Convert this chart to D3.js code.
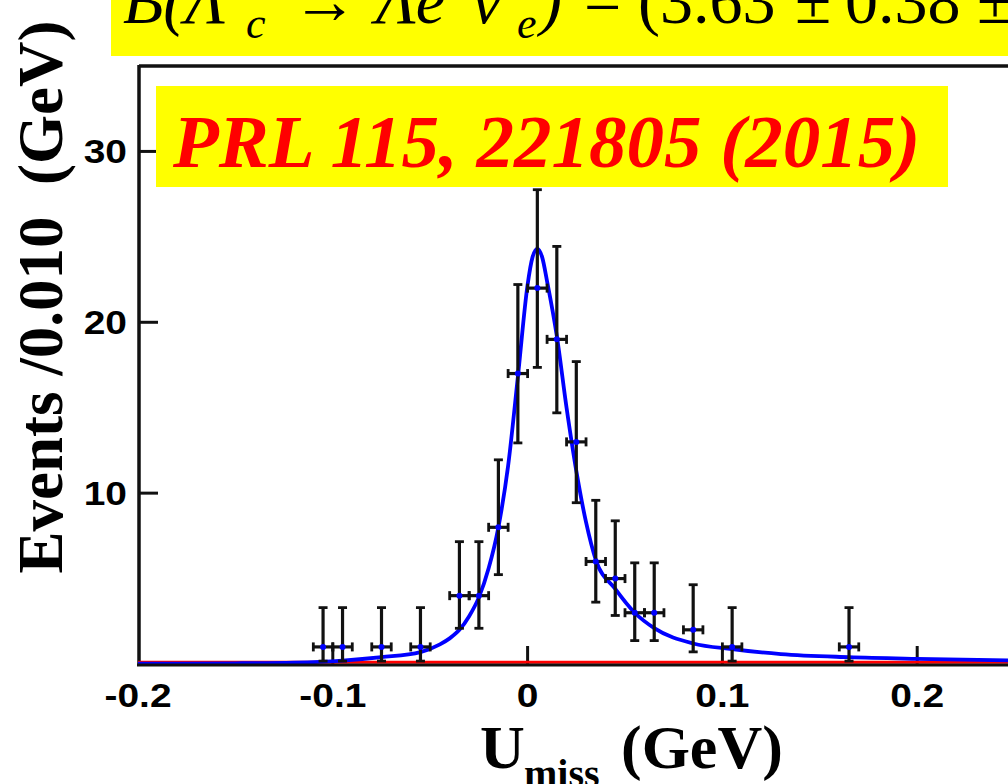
<!DOCTYPE html>
<html>
<head>
<meta charset="utf-8">
<script src="https://cdn.jsdelivr.net/npm/d3@7"></script>
<style>
  body { margin: 0; background: #ffffff; }
  svg { display: block; }
</style>
</head>
<body>
<div id="mychart"></div>
<script>
// bin centres (GeV) and event counts per 0.010 GeV
var binCenters = [-0.105, -0.095, -0.075, -0.055, -0.035, -0.025, -0.015, -0.005,
                  0.005, 0.015, 0.025, 0.035, 0.045, 0.055, 0.065, 0.085, 0.105, 0.165];
var counts = [1, 1, 1, 1, 4, 4, 8, 17, 22, 19, 13, 6, 5, 3, 3, 2, 1, 1];
// asymmetric (Poisson) error bars
var errDown = [0.83, 0.83, 0.83, 0.83, 1.91, 1.91, 2.77, 4.06, 4.64, 4.30, 3.56, 2.38, 2.16, 1.63, 1.63, 1.29, 0.83, 0.83];
var errUp   = [2.30, 2.30, 2.30, 2.30, 3.16, 3.16, 3.95, 5.21, 5.76, 5.44, 4.70, 3.58, 3.38, 2.92, 2.92, 2.64, 2.30, 2.30];
var binHalfWidth = 0.005;

// fitted total curve (blue), read point by point
var fitX = [-0.2, -0.15, -0.12, -0.095, -0.075, -0.055, -0.045, -0.04, -0.035, -0.03, -0.025, -0.02, -0.015, -0.01, -0.005,
            0, 0.0025, 0.005, 0.0075, 0.01, 0.015, 0.02, 0.025, 0.03, 0.035, 0.045, 0.055, 0.065, 0.085, 0.105, 0.13, 0.165, 0.2, 0.25, 0.3];
var fitY = [0.02, 0.04, 0.08, 0.2, 0.4, 0.7, 1.15, 1.5, 2.0, 2.8, 3.9, 5.6, 8.0, 11.6, 16.8,
            22.2, 23.8, 24.3, 23.8, 22.4, 19.2, 15.0, 11.3, 8.3, 6.1, 4.4, 3.0, 2.1, 1.2, 0.87, 0.58, 0.4, 0.3, 0.2, 0.15];

// background (red), flat at zero
var bkgX = [-0.2, 0.3];
var bkgY = [0.1, 0.1];

var xTicks = [-0.2, -0.1, 0, 0.1, 0.2];
var xTickLabels = ["-0.2", "-0.1", "0", "0.1", "0.2"];
var yTicks = [10, 20, 30];

var width = 1008,
    height = 784;

var svg = d3.select("#mychart")
  .append("svg")
    .attr("width", width)
    .attr("height", height);

svg.append("rect")
  .attr("width", width)
  .attr("height", height)
  .attr("fill", "#ffffff");

// scales: frame runs -0.2..0.3 GeV, 0..35 events
var x = d3.scaleLinear().domain([-0.2, 0.3]).range([138, 1112]);
var y = d3.scaleLinear().domain([0, 35]).range([664, 66]);

// top banner (cut at the top of the picture, as in the slide)
svg.append("rect")
  .attr("x", 111).attr("y", 0)
  .attr("width", 897).attr("height", 56)
  .attr("fill", "#ffff00");

var banner = svg.append("text")
  .attr("y", 23)
  .style("font-family", "'Liberation Serif', 'Times New Roman', serif")
  .style("font-size", "66px")
  .attr("fill", "#000");

var bannerParts = [
  { t: "B(\u039B", x: 123, italic: true },
  { t: "c", x: 246, italic: true, sub: true },
  { t: "\u2192", x: 292 },
  { t: "\u039Be", x: 376, italic: true },
  { t: "\u03BD", x: 472, italic: true },
  { t: "e", x: 517, italic: true, sub: true },
  { t: ")", x: 540, italic: true },
  { t: "=", x: 584 },
  { t: "(3.63", x: 638 },
  { t: "\u00B1", x: 795 },
  { t: "0.38", x: 845 },
  { t: "\u00B1", x: 977 },
  { t: "0.20)%", x: 1030 }
];

banner.selectAll("tspan")
  .data(bannerParts)
  .enter()
  .append("tspan")
    .attr("x", function (d) { return d.x; })
    .attr("y", function (d) { return d.sub ? 38 : 23; })
    .style("font-style", function (d) { return d.italic ? "italic" : "normal"; })
    .style("font-size", function (d) { return d.sub ? "44px" : "66px"; })
    .text(function (d) { return d.t; });

// frame lines
svg.append("line")
  .attr("x1", 139).attr("x2", width)
  .attr("y1", 66).attr("y2", 66)
  .attr("stroke", "#111").attr("stroke-width", 3.5);
svg.append("line")
  .attr("x1", 139).attr("x2", 139)
  .attr("y1", 65).attr("y2", 666)
  .attr("stroke", "#111").attr("stroke-width", 3.5);

// ticks on the y axis (inside frame)
svg.selectAll(".ytick")
  .data(yTicks)
  .enter()
  .append("line")
    .attr("class", "ytick")
    .attr("x1", 139).attr("x2", 158)
    .attr("y1", function (d) { return y(d); })
    .attr("y2", function (d) { return y(d); })
    .attr("stroke", "#111").attr("stroke-width", 3);

// tick labels: Helvetica-like bold, a bit stretched like the slide
svg.selectAll(".ylab")
  .data(yTicks)
  .enter()
  .append("text")
    .attr("class", "ylab")
    .attr("transform", function (d) { return "translate(127," + (y(d) + 12) + ") scale(1.18,1)"; })
    .attr("text-anchor", "end")
    .style("font-family", "'Liberation Sans', Arial, sans-serif")
    .style("font-weight", "bold")
    .style("font-size", "33px")
    .text(function (d) { return d; });

// ticks on the x axis (pointing up)
svg.selectAll(".xtick")
  .data(xTicks.slice(1))
  .enter()
  .append("line")
    .attr("class", "xtick")
    .attr("x1", function (d) { return x(d); })
    .attr("x2", function (d) { return x(d); })
    .attr("y1", 664).attr("y2", 646)
    .attr("stroke", "#111").attr("stroke-width", 3);

svg.selectAll(".xlab")
  .data(xTicks)
  .enter()
  .append("text")
    .attr("class", "xlab")
    .attr("transform", function (d) { return "translate(" + x(d) + ",707) scale(1.18,1)"; })
    .attr("text-anchor", "middle")
    .style("font-family", "'Liberation Sans', Arial, sans-serif")
    .style("font-weight", "bold")
    .style("font-size", "33px")
    .text(function (d, i) { return xTickLabels[i]; });

// PRL reference box
svg.append("rect")
  .attr("x", 156).attr("y", 86)
  .attr("width", 792).attr("height", 101)
  .attr("fill", "#ffff00");
svg.append("text")
  .attr("x", 173).attr("y", 167)
  .style("font-family", "'Liberation Serif', 'Times New Roman', serif")
  .style("font-weight", "bold")
  .style("font-style", "italic")
  .style("font-size", "75px")
  .attr("fill", "#ff0000")
  .text("PRL 115, 221805 (2015)");

// background line (red)
var line = d3.line()
  .x(function (d) { return x(d[0]); })
  .y(function (d) { return y(d[1]); });

svg.append("path")
  .datum(d3.zip(bkgX, bkgY))
  .attr("d", line)
  .attr("fill", "none")
  .attr("stroke", "#ff0000")
  .attr("stroke-width", 3);

// fit curve (blue)
svg.append("path")
  .datum(d3.zip(fitX, fitY))
  .attr("d", line.curve(d3.curveMonotoneX))
  .attr("fill", "none")
  .attr("stroke", "#0000ff")
  .attr("stroke-width", 3.8);

// bottom axis line
svg.append("line")
  .attr("x1", 137).attr("x2", width)
  .attr("y1", 665).attr("y2", 665)
  .attr("stroke", "#111").attr("stroke-width", 3);

// data points with error bars
var pts = d3.range(counts.length).map(function (i) {
  return { x: binCenters[i], n: counts[i], lo: counts[i] - errDown[i], hi: counts[i] + errUp[i] };
});

var g = svg.append("g").attr("class", "points");
var bars = g.selectAll("g").data(pts).enter().append("g");

bars.append("line")
  .attr("x1", function (d) { return x(d.x); })
  .attr("x2", function (d) { return x(d.x); })
  .attr("y1", function (d) { return y(d.lo); })
  .attr("y2", function (d) { return y(d.hi); })
  .attr("stroke", "#111").attr("stroke-width", 3.2);

bars.append("line")
  .attr("x1", function (d) { return x(d.x - binHalfWidth); })
  .attr("x2", function (d) { return x(d.x + binHalfWidth); })
  .attr("y1", function (d) { return y(d.n); })
  .attr("y2", function (d) { return y(d.n); })
  .attr("stroke", "#111").attr("stroke-width", 3.2);

// end caps
bars.each(function (d) {
  var s = d3.select(this);
  [d.lo, d.hi].forEach(function (v) {
    s.append("line")
      .attr("x1", x(d.x) - 4.5).attr("x2", x(d.x) + 4.5)
      .attr("y1", y(v)).attr("y2", y(v))
      .attr("stroke", "#111").attr("stroke-width", 2.8);
  });
  [d.x - binHalfWidth, d.x + binHalfWidth].forEach(function (v) {
    s.append("line")
      .attr("x1", x(v)).attr("x2", x(v))
      .attr("y1", y(d.n) - 4.5).attr("y2", y(d.n) + 4.5)
      .attr("stroke", "#111").attr("stroke-width", 2.8);
  });
});

bars.append("circle")
  .attr("cx", function (d) { return x(d.x); })
  .attr("cy", function (d) { return y(d.n); })
  .attr("r", 3)
  .attr("fill", "#0000ff");

// axis titles
svg.append("text")
  .attr("transform", "translate(62,297) rotate(-90)")
  .attr("text-anchor", "middle")
  .style("font-family", "'Liberation Serif', 'Times New Roman', serif")
  .style("font-weight", "bold")
  .style("font-size", "63px")
  .style("white-space", "pre")
  .text("Events /0.010  (GeV)");

var xt = svg.append("text")
  .attr("y", 768)
  .style("font-family", "'Liberation Serif', 'Times New Roman', serif")
  .style("font-weight", "bold")
  .style("font-size", "62px");
xt.append("tspan").attr("x", 480).text("U");
xt.append("tspan").attr("x", 524).attr("y", 787).style("font-size", "40px").text("miss");
xt.append("tspan").attr("x", 621).attr("y", 768).text("(GeV)");
</script>
</body>
</html>
